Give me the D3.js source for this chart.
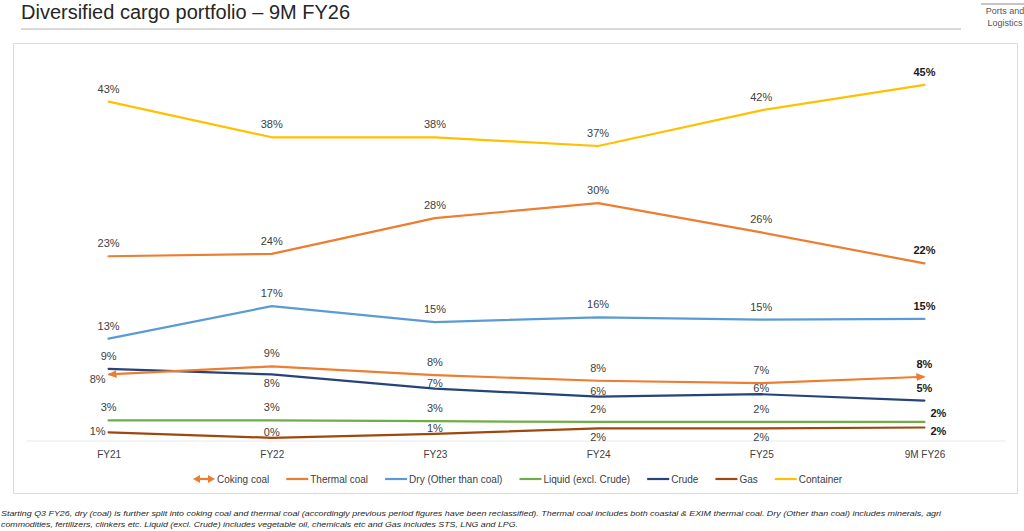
<!DOCTYPE html>
<html><head><meta charset="utf-8">
<script src="https://cdn.jsdelivr.net/npm/d3@7"></script>
<style>
html,body{margin:0;padding:0;background:#fff;overflow:hidden}
svg{display:block;font-family:"Liberation Sans",Arial,sans-serif}
</style></head><body>
<svg id="c" width="1024" height="531"></svg>
<script>
// ---------- data ----------
const categories = ["FY21", "FY22", "FY23", "FY24", "FY25", "9M FY26"];
const cokingCoal  = [8.4, 9.4, 8.3, 7.6, 7.3, 8.1];
const thermalCoal = [23.3, 23.6, 28.1, 30.0, 26.3, 22.4];
const dryOther    = [12.9, 17.0, 15.0, 15.6, 15.3, 15.4];
const liquid      = [2.6, 2.6, 2.5, 2.4, 2.4, 2.4];
const crude       = [9.1, 8.4, 6.6, 5.6, 5.9, 5.1];
const gas         = [1.1, 0.4, 0.9, 1.6, 1.6, 1.7];
const container   = [42.8, 38.3, 38.3, 37.2, 41.7, 44.9];
const seriesNames = ["Coking coal", "Thermal coal", "Dry (Other than coal)", "Liquid (excl. Crude)", "Crude", "Gas", "Container"];

// ---------- styling / label layout (not data) ----------
const colors = {
  "Coking coal": "#ED7D31", "Thermal coal": "#ED7D31", "Dry (Other than coal)": "#5B9BD5",
  "Liquid (excl. Crude)": "#70AD47", "Crude": "#264478", "Gas": "#9E480E", "Container": "#FFC000"
};
const labelPos = {
  "Coking coal": ["l","t","t","t","t","t"],
  "Thermal coal": ["t","t","t","t","t","t"],
  "Dry (Other than coal)": ["t","t","t","t","t","t"],
  "Liquid (excl. Crude)": ["t","t","t","t","t","ru"],
  "Crude": ["t","b","tc","tc","tc","t"],
  "Gas": ["lm","tc","tc","b","b","rd"],
  "Container": ["t","t","t","t","t","t"]
};
const posRule = {
  t:  {a:"middle", dx:0,  dy:-9},
  tc: {a:"middle", dx:0,  dy:-2},
  b:  {a:"middle", dx:0,  dy:13},
  l:  {a:"end",    dx:-3, dy:9},
  lm: {a:"end",    dx:-3, dy:3},
  ru: {a:"start",  dx:6,  dy:-5},
  rd: {a:"start",  dx:6,  dy:7}
};

const valuesOf = {
  "Coking coal": cokingCoal, "Thermal coal": thermalCoal, "Dry (Other than coal)": dryOther,
  "Liquid (excl. Crude)": liquid, "Crude": crude, "Gas": gas, "Container": container
};

const svg = d3.select("#c");

// ---------- page decorations ----------
svg.append("text").attr("x", 21).attr("y", 19).attr("font-size", 20)
  .attr("fill", "#262626").text("Diversified cargo portfolio – 9M FY26");
svg.append("line").attr("x1", 21).attr("x2", 961).attr("y1", 29).attr("y2", 29)
  .attr("stroke", "#d9d9d9").attr("stroke-width", 2);
svg.append("line").attr("x1", 981).attr("x2", 1024).attr("y1", 4).attr("y2", 4)
  .attr("stroke", "#8c8c8c").attr("stroke-width", 1);
svg.append("text").attr("x", 1005).attr("y", 14).attr("font-size", 9).attr("text-anchor", "middle")
  .attr("fill", "#555").text("Ports and");
svg.append("text").attr("x", 1005).attr("y", 26).attr("font-size", 9).attr("text-anchor", "middle")
  .attr("fill", "#555").text("Logistics");

// chart panel
svg.append("rect").attr("x", 13.5).attr("y", 43.5).attr("width", 1004).attr("height", 450)
  .attr("fill", "#fff").attr("stroke", "#dcdcdc").attr("stroke-width", 1);

// ---------- scales ----------
const x = d3.scalePoint().domain(categories).range([27, 1006]).padding(0.5);
const y = d3.scaleLinear().domain([0, 50]).range([441, 44.5]);

// zero line
svg.append("line").attr("x1", 27).attr("x2", 1006).attr("y1", y(0)).attr("y2", y(0))
  .attr("stroke", "#e8e8e8").attr("stroke-width", 1);

// x axis
const xAxis = svg.append("g").attr("transform", `translate(0,${y(0)})`)
  .call(d3.axisBottom(x).tickSize(0).tickPadding(10));
xAxis.select(".domain").remove();
xAxis.selectAll("text").attr("font-size", 10).attr("fill", "#404040")
  .attr("font-family", "'Liberation Sans', Arial, sans-serif");

// arrow marker
const defs = svg.append("defs");
defs.append("marker").attr("id", "arr").attr("viewBox", "0 0 9 8")
  .attr("refX", 8).attr("refY", 4).attr("markerWidth", 9).attr("markerHeight", 8)
  .attr("markerUnits", "userSpaceOnUse").attr("orient", "auto-start-reverse")
  .append("path").attr("d", "M0,0 L9,4 L0,8 Z").attr("fill", colors["Coking coal"]);

// ---------- lines ----------
const line = d3.line().x((d, i) => x(categories[i])).y(d => y(d));
const drawOrder = ["Gas", "Liquid (excl. Crude)", "Crude", "Coking coal", "Dry (Other than coal)", "Thermal coal", "Container"];
drawOrder.forEach(name => {
  const p = svg.append("path").datum(valuesOf[name]).attr("d", line)
    .attr("fill", "none").attr("stroke", colors[name]).attr("stroke-width", 2.2)
    .attr("stroke-linejoin", "round").attr("stroke-linecap", "round");
  if (name === "Coking coal") p.attr("marker-start", "url(#arr)").attr("marker-end", "url(#arr)").attr("stroke-linecap", "butt");
});

// ---------- data labels ----------
seriesNames.forEach(name => {
  valuesOf[name].forEach((v, i) => {
    const r = posRule[labelPos[name][i]];
    const last = i === categories.length - 1;
    svg.append("text")
      .attr("x", x(categories[i]) + r.dx).attr("y", y(v) + r.dy)
      .attr("text-anchor", r.a).attr("font-size", 11)
      .attr("font-weight", last ? "bold" : "normal")
      .attr("fill", last ? "#1a1a1a" : "#404040")
      .text(d3.format(".0f")(v) + "%");
  });
});

// ---------- legend ----------
const leg = svg.append("g");
let lx = 193;
const ly = 479;
seriesNames.forEach(name => {
  const c = colors[name];
  const ln = leg.append("line").attr("x1", lx).attr("x2", lx + 22).attr("y1", ly).attr("y2", ly)
    .attr("stroke", c).attr("stroke-width", 2.2);
  if (name === "Coking coal") {
    ln.attr("x1", lx + 6).attr("x2", lx + 16);
    leg.append("path").attr("d", `M${lx},${ly} l7,-4 l0,8 Z`).attr("fill", c);
    leg.append("path").attr("d", `M${lx + 22},${ly} l-7,-4 l0,8 Z`).attr("fill", c);
  }
  const t = leg.append("text").attr("x", lx + 24).attr("y", ly + 3.5).attr("font-size", 10)
    .attr("fill", "#404040").text(name);
  lx += 24 + t.node().getComputedTextLength() + 17;
});

// ---------- footnote ----------
const foot1 = "Starting Q3 FY26, dry (coal) is further split into coking coal and thermal coal (accordingly previous period figures have been reclassified). Thermal coal includes both coastal & EXIM thermal coal. Dry (Other than coal) includes minerals, agri";
const foot2 = "commodities, fertilizers, clinkers etc. Liquid (excl. Crude) includes vegetable oil, chemicals etc and Gas includes STS, LNG and LPG.";
svg.append("text").attr("x", 1).attr("y", 516).attr("font-size", 8).attr("font-style", "italic")
  .attr("fill", "#262626").attr("textLength", 940).attr("lengthAdjust", "spacingAndGlyphs").text(foot1);
svg.append("text").attr("x", 1).attr("y", 527).attr("font-size", 8).attr("font-style", "italic")
  .attr("fill", "#262626").attr("textLength", 517).attr("lengthAdjust", "spacingAndGlyphs").text(foot2);
</script>
</body></html>
